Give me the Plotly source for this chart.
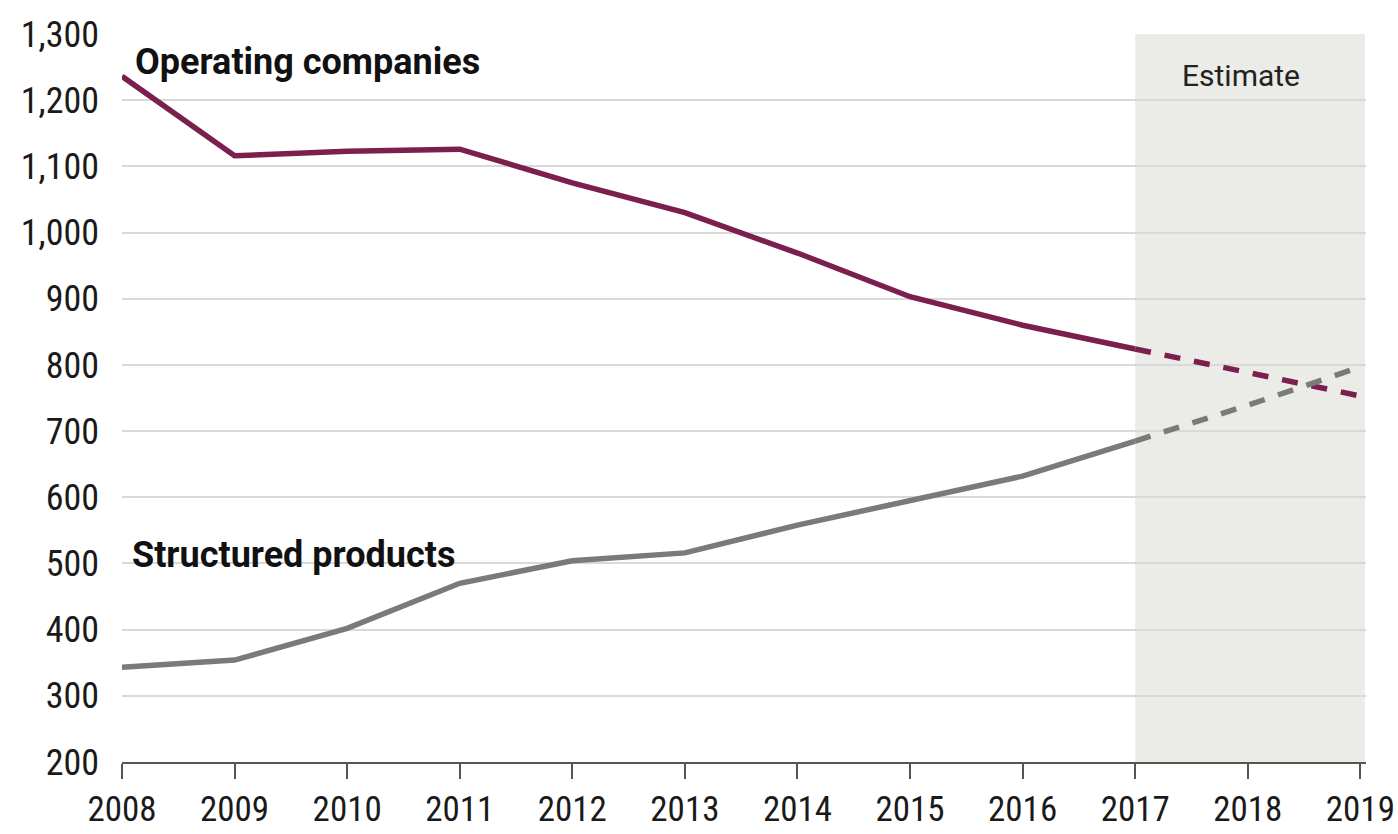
import plotly.graph_objects as go

years = [2008, 2009, 2010, 2011, 2012, 2013, 2014, 2015, 2016, 2017, 2018, 2019]
operating = [1236, 1116, 1123, 1126, 1075, 1030, 969, 903, 860, 824, 788, 753]
structured = [343, 354, 402, 470, 504, 516, 558, 596, 632, 685, 739, 797]
est_start = 2017
y_ticks = [200, 300, 400, 500, 600, 700, 800, 900, 1000, 1100, 1200, 1300]
y_labels = ["200", "300", "400", "500", "600", "700", "800", "900", "1,000", "1,100", "1,200", "1,300"]

OP_COLOR = "#7b1f4f"
SP_COLOR = "#7a7a7a"
FONT = "Liberation Sans Narrow, Roboto Condensed, Open Sans, sans-serif"
LABEL_FONT = "Roboto, Open Sans, sans-serif"

i = years.index(est_start)
fig = go.Figure()
for vals, col in [(operating, OP_COLOR), (structured, SP_COLOR)]:
    fig.add_trace(go.Scatter(x=years[:i + 1], y=vals[:i + 1], mode="lines",
                             line=dict(color=col, width=5.5), hoverinfo="skip", cliponaxis=False))
    fig.add_trace(go.Scatter(x=years[i:], y=vals[i:], mode="lines",
                             line=dict(color=col, width=5.5, dash="16px,14px"), hoverinfo="skip",
                             cliponaxis=False))

fig.add_shape(type="rect", xref="x", yref="y", x0=est_start, x1=2019.04, y0=200, y1=1300,
              fillcolor="#ebebe8", line=dict(width=0), layer="below")

fig.add_annotation(x=2008.1, y=1258, text="<b>Operating companies</b>", showarrow=False,
                   xanchor="left", yanchor="middle", font=dict(size=36, color="#111111", family=LABEL_FONT))
fig.add_annotation(x=2008.07, y=513, text="<b>Structured products</b>", showarrow=False,
                   xanchor="left", yanchor="middle", font=dict(size=36, color="#111111", family=LABEL_FONT))
fig.add_annotation(x=2017.94, y=1238, text="Estimate", showarrow=False,
                   xanchor="center", yanchor="middle", font=dict(size=30, color="#222222", family=LABEL_FONT))

fig.update_layout(
    width=1398, height=834,
    margin=dict(l=122, r=32, t=34, b=72, autoexpand=False),
    paper_bgcolor="white", plot_bgcolor="white",
    showlegend=False,
    font=dict(family=FONT, size=35, color="#1a1a1a"),
    xaxis=dict(range=[2008, 2019.05], tickmode="array", tickvals=years,
               ticktext=[str(y) for y in years], showgrid=False, zeroline=False,
               showline=True, linecolor="#555555", linewidth=2,
               ticks="outside", ticklen=15, tickwidth=2, tickcolor="#555555",
               ticklabelstandoff=0, automargin=False),
    yaxis=dict(range=[200, 1300], tickmode="array", tickvals=y_ticks, ticktext=y_labels,
               showgrid=True, gridcolor="#d9d9d9", gridwidth=1.5, zeroline=False,
               showline=False, ticks="", ticklabelstandoff=22, automargin=False,
               tickfont=dict(size=36)),
)

fig.write_html("out.html")
